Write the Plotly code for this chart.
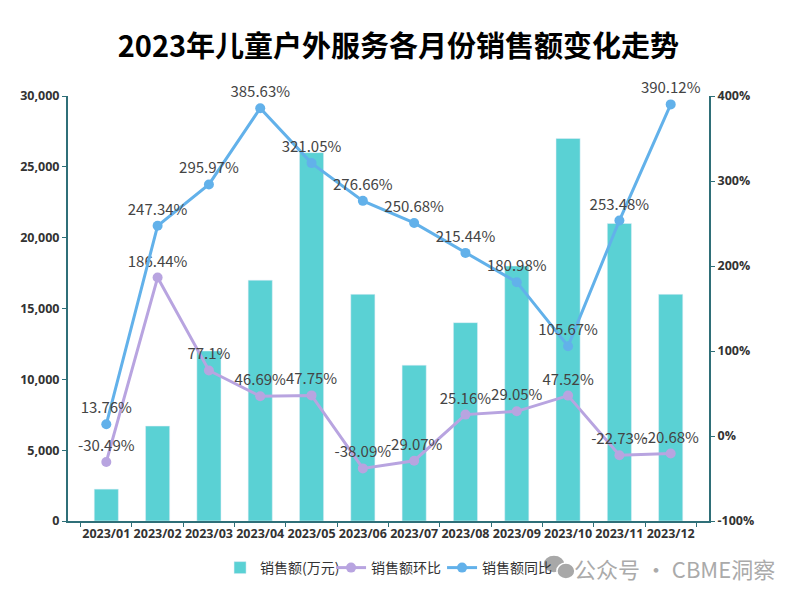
import plotly.graph_objects as go

months = ["2023/01", "2023/02", "2023/03", "2023/04", "2023/05", "2023/06",
          "2023/07", "2023/08", "2023/09", "2023/10", "2023/11", "2023/12"]
sales = [2250, 6700, 12000, 17000, 26000, 16000, 11000, 14000, 18000, 27000, 21000, 16000]
mom = [-30.49, 186.44, 77.1, 46.69, 47.75, -38.09, -29.07, 25.16, 29.05, 47.52, -22.73, -20.68]
yoy = [13.76, 247.34, 295.97, 385.63, 321.05, 276.66, 250.68, 215.44, 180.98, 105.67, 253.48, 390.12]
left_ticks = [0, 5000, 10000, 15000, 20000, 25000, 30000]
right_ticks = [-100, 0, 100, 200, 300, 400]

CJK = "Noto Sans CJK SC, Noto Sans, sans-serif"
AXIS_COLOR = "#2f6f78"
TICK_FONT = dict(family="Open Sans, Noto Sans CJK SC, sans-serif", size=12.5, color="#333", weight="bold")

# page body has an 8px margin: plot area wanted at screen x 64..709, y 96..521
L, T, PW, PH = 56, 88, 645, 425


def px(x):
    return (x - 8 - L) / PW


def py(y):
    return (T + PH - (y - 8)) / PH


fig = go.Figure()
fig.add_trace(go.Bar(
    x=months, y=sales, name="销售额(万元)",
    marker=dict(color="#5ad1d4"), yaxis="y",
))
fig.add_trace(go.Scatter(
    x=months, y=mom, name="销售额环比", yaxis="y2",
    mode="lines+markers+text", cliponaxis=False,
    line=dict(color="#b8a4e0", width=3),
    marker=dict(color="#b8a4e0", size=10),
    text=[f"{v:g}%" for v in mom], textposition="top center",
    textfont=dict(family=CJK, size=15, color="#444"),
))
fig.add_trace(go.Scatter(
    x=months, y=yoy, name="销售额同比", yaxis="y2",
    mode="lines+markers+text", cliponaxis=False,
    line=dict(color="#62b1ea", width=3),
    marker=dict(color="#62b1ea", size=10),
    text=[f"{v:g}%" for v in yoy], textposition="top center",
    textfont=dict(family=CJK, size=15, color="#444"),
))

fig.update_layout(
    width=800, height=600,
    paper_bgcolor="white", plot_bgcolor="white",
    margin=dict(l=L, r=800 - L - PW, t=T, b=600 - T - PH),
    title=dict(text="2023年儿童户外服务各月份销售额变化走势", x=0.488, xanchor="center",
               y=1 - (47 - 8) / 600, yanchor="middle",
               font=dict(family=CJK, size=29, color="#000", weight="bold")),
    bargap=0.53,
    showlegend=True,
    legend=dict(orientation="h", x=px(217), xanchor="left", y=py(568), yanchor="middle",
                bgcolor="rgba(0,0,0,0)",
                font=dict(family=CJK, size=14, color="#333"), itemwidth=30,
                entrywidth=66, entrywidthmode="pixels"),
    xaxis=dict(showline=True, linecolor=AXIS_COLOR, linewidth=2, ticks="outside",
               tickson="boundaries", ticklen=4, tickcolor=AXIS_COLOR, tickangle=0,
               tickfont=TICK_FONT, showgrid=False),
    yaxis=dict(range=[0, 30000], tickvals=left_ticks, tickformat=",", showline=True,
               linecolor=AXIS_COLOR, linewidth=2, ticks="outside", ticklen=4,
               tickcolor=AXIS_COLOR, tickfont=TICK_FONT, showgrid=False, zeroline=False),
    yaxis2=dict(range=[-100, 400], tickvals=right_ticks,
                ticktext=[f"{v}%" for v in right_ticks], overlaying="y",
                side="right", showline=True, linecolor=AXIS_COLOR, linewidth=2,
                ticks="outside", ticklen=4, tickcolor=AXIS_COLOR, tickfont=TICK_FONT,
                showgrid=False, zeroline=False),
)
# watermark icon (two chat bubbles), sized in pixels
for (cx, cy, rx, ry) in [(553, 564, 11, 9), (565, 571, 9, 8)]:
    fig.add_shape(type="circle", xref="paper", yref="paper",
                  xsizemode="pixel", ysizemode="pixel",
                  xanchor=px(cx), yanchor=py(cy),
                  x0=-rx, x1=rx, y0=-ry, y1=ry,
                  fillcolor="#a8a8a8", line=dict(color="white", width=1.5), layer="above")
fig.add_annotation(text="公众号 · CBME洞察", xref="paper", yref="paper",
                   x=px(777), xanchor="right", y=py(568), yanchor="middle",
                   showarrow=False,
                   font=dict(family=CJK, size=22, color="#aaaaaa"))

fig.write_html("out.html")
